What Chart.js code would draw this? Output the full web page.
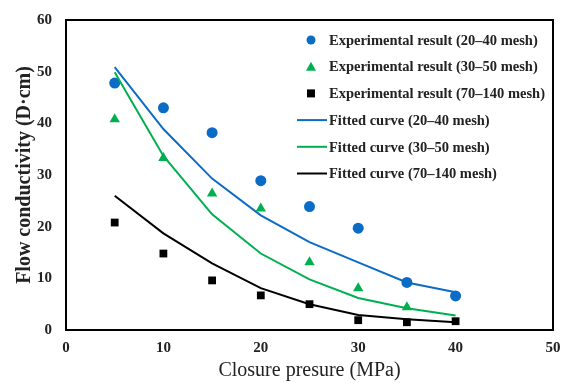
<!DOCTYPE html>
<html>
<head>
<meta charset="utf-8">
<script src="https://cdn.jsdelivr.net/npm/chart.js@4/dist/chart.umd.min.js"></script>
<style>
    html, body { margin: 0; padding: 0; background: #fff; }
    #wrap { width: 561px; height: 383px; }
</style>
</head>
<body>
<div id="wrap"><canvas id="chart"></canvas></div>
<script>
// Closure pressure (MPa)
const pressures = [5, 10, 15, 20, 25, 30, 35, 40]

// Experimental results
const exp2040 = [47.8, 43.0, 38.2, 28.9, 23.9, 19.7, 9.2, 6.6]
const exp3050 = [40.8, 33.3, 26.4, 23.5, 13.1, 8.1, 4.4, null]
const exp70140 = [20.8, 14.8, 9.6, 6.7, 5.0, 1.9, 1.5, 1.7]

// Fitted curves
const fit2040 = [50.9, 38.9, 29.3, 22.2, 17.0, 13.1, 9.2, 7.3]
const fit3050 = [49.9, 33.7, 22.4, 14.8, 9.8, 6.2, 4.2, 2.8]
const fit70140 = [26.0, 18.7, 12.9, 8.1, 5.0, 2.9, 2.1, 1.5]

const xTicks = [0, 10, 20, 30, 40, 50]
const yTicks = [0, 10, 20, 30, 40, 50, 60]

const BLUE = '#0a6cc4'
const GREEN = '#00b050'
const BLACK = '#000000'
const SERIF = '"Liberation Serif", "Times New Roman", serif'

const toXY = (values) => pressures.map((p, i) => ({ x: p, y: values[i] }))

const legendItems = [
    { label: 'Experimental result (20\u201340 mesh)', kind: 'circle', color: BLUE },
    { label: 'Experimental result (30\u201350 mesh)', kind: 'triangle', color: GREEN },
    { label: 'Experimental result (70\u2013140 mesh)', kind: 'rect', color: BLACK },
    { label: 'Fitted curve (20\u201340 mesh)', kind: 'line', color: BLUE },
    { label: 'Fitted curve (30\u201350 mesh)', kind: 'line', color: GREEN },
    { label: 'Fitted curve (70\u2013140 mesh)', kind: 'line', color: BLACK }
]

// Frame around the plot area plus the legend inside it
const framePlugin = {
    id: 'frame',
    afterDraw(chart) {
        const { ctx, chartArea: a } = chart
        ctx.save()
        ctx.strokeStyle = '#000'
        ctx.lineWidth = 2
        ctx.strokeRect(a.left, a.top, a.right - a.left, a.bottom - a.top)

        ctx.font = `bold 14.5px ${SERIF}`
        ctx.textBaseline = 'middle'
        ctx.textAlign = 'left'
        legendItems.forEach((item, i) => {
            const y = 40 + i * 26.7
            const mx = 311
            ctx.fillStyle = item.color
            ctx.strokeStyle = item.color
            if (item.kind === 'circle') {
                ctx.beginPath()
                ctx.arc(mx, y, 4.5, 0, Math.PI * 2)
                ctx.fill()
            } else if (item.kind === 'triangle') {
                ctx.beginPath()
                ctx.moveTo(mx, y - 5)
                ctx.lineTo(mx + 5, y + 4)
                ctx.lineTo(mx - 5, y + 4)
                ctx.closePath()
                ctx.fill()
            } else if (item.kind === 'rect') {
                ctx.fillRect(mx - 4, y - 4, 8, 8)
            } else {
                ctx.lineWidth = 2
                ctx.beginPath()
                ctx.moveTo(297, y)
                ctx.lineTo(327, y)
                ctx.stroke()
            }
            ctx.fillStyle = '#222'
            ctx.fillText(item.label, 329, y + 1)
        })
        ctx.restore()
    }
}

const ctx = document.getElementById('chart').getContext('2d')
new Chart(ctx, {
    type: 'scatter',
    data: {
        datasets: [
            {
                label: 'Fitted curve (20-40 mesh)',
                data: toXY(fit2040),
                showLine: true,
                borderColor: BLUE,
                borderWidth: 2,
                pointRadius: 0,
                tension: 0
            },
            {
                label: 'Fitted curve (30-50 mesh)',
                data: toXY(fit3050),
                showLine: true,
                borderColor: GREEN,
                borderWidth: 2,
                pointRadius: 0,
                tension: 0
            },
            {
                label: 'Fitted curve (70-140 mesh)',
                data: toXY(fit70140),
                showLine: true,
                borderColor: BLACK,
                borderWidth: 2,
                pointRadius: 0,
                tension: 0
            },
            {
                label: 'Experimental result (20-40 mesh)',
                data: toXY(exp2040),
                pointStyle: 'circle',
                pointRadius: 5.5,
                backgroundColor: BLUE,
                borderColor: BLUE,
                borderWidth: 0
            },
            {
                label: 'Experimental result (30-50 mesh)',
                data: toXY(exp3050),
                pointStyle: 'triangle',
                pointRadius: 6,
                backgroundColor: GREEN,
                borderColor: GREEN,
                borderWidth: 0
            },
            {
                label: 'Experimental result (70-140 mesh)',
                data: toXY(exp70140),
                pointStyle: 'rect',
                pointRadius: 5.5,
                backgroundColor: BLACK,
                borderColor: BLACK,
                borderWidth: 0
            }
        ]
    },
    options: {
        responsive: true,
        maintainAspectRatio: false,
        animation: false,
        layout: { padding: { top: 20, right: 8, left: 13, bottom: 0 } },
        plugins: {
            legend: { display: false },
            tooltip: { enabled: false }
        },
        scales: {
            x: {
                type: 'linear',
                min: 0,
                max: 50,
                afterBuildTicks: (s) => { s.ticks = xTicks.map(v => ({ value: v })) },
                afterFit: (s) => {
                    s.height = 53
                    s.paddingLeft = 0
                    s.paddingRight = 0
                },
                grid: { display: false, drawTicks: false },
                border: { display: false },
                ticks: {
                    color: '#222',
                    padding: 9,
                    font: { family: SERIF, size: 15, weight: 'bold' }
                },
                title: {
                    display: true,
                    text: 'Closure presure (MPa)',
                    color: '#222',
                    padding: { top: 6, bottom: 0 },
                    font: { family: SERIF, size: 20 }
                }
            },
            y: {
                type: 'linear',
                min: 0,
                max: 60,
                afterBuildTicks: (s) => { s.ticks = yTicks.map(v => ({ value: v })) },
                afterFit: (s) => {
                    s.width = 53
                    s.paddingTop = 0
                    s.paddingBottom = 0
                },
                grid: { display: false, drawTicks: true, tickLength: 4, tickColor: '#000' },
                border: { display: false },
                ticks: {
                    color: '#222',
                    padding: 10,
                    font: { family: SERIF, size: 15, weight: 'bold' }
                },
                title: {
                    display: true,
                    text: 'Flow conductivity (D\u00b7cm)',
                    color: '#222',
                    padding: { top: 0, bottom: 0 },
                    font: { family: SERIF, size: 20, weight: 'bold' }
                }
            }
        }
    },
    plugins: [framePlugin]
})
</script>
</body>
</html>
